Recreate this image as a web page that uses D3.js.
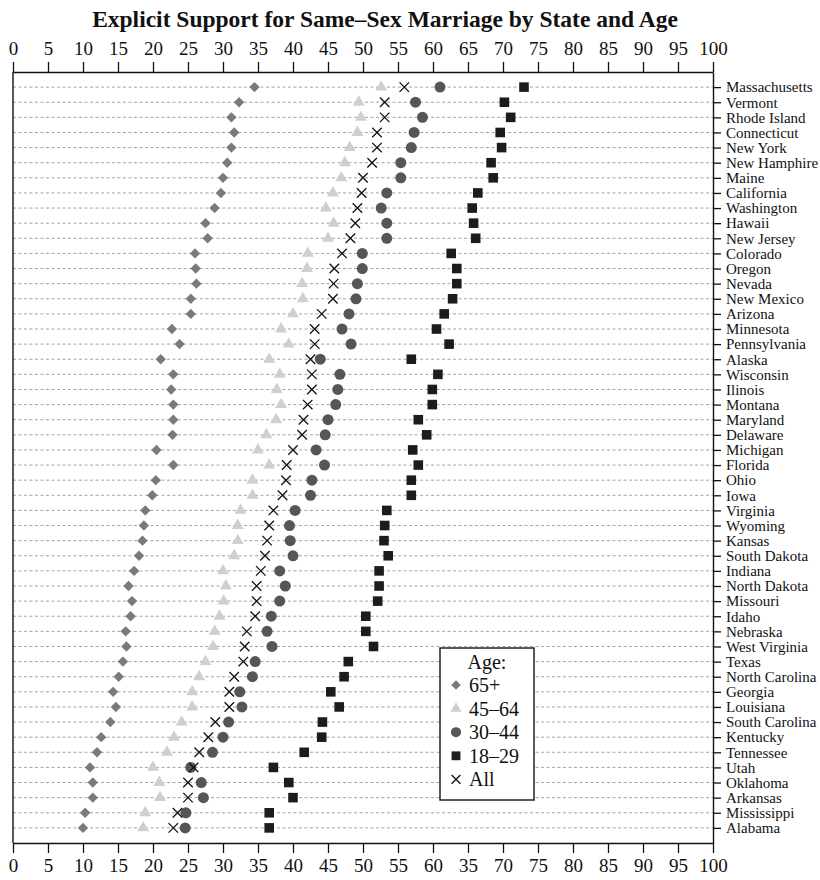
<!DOCTYPE html>
<html>
<head>
<meta charset="utf-8">
<script src="https://cdnjs.cloudflare.com/ajax/libs/d3/7.8.5/d3.min.js"></script>
<style>
body { margin: 0; background: #fff; }
svg text { font-family: "Liberation Serif", "DejaVu Serif", serif; }
</style>
</head>
<body>
<div id="container"></div>
<script>
const states = ["Massachusetts", "Vermont", "Rhode Island", "Connecticut", "New York", "New Hamphire", "Maine",
    "California", "Washington", "Hawaii", "New Jersey", "Colorado", "Oregon", "Nevada", "New Mexico", "Arizona",
    "Minnesota", "Pennsylvania", "Alaska", "Wisconsin", "Ilinois", "Montana", "Maryland", "Delaware", "Michigan",
    "Florida", "Ohio", "Iowa", "Virginia", "Wyoming", "Kansas", "South Dakota", "Indiana", "North Dakota",
    "Missouri", "Idaho", "Nebraska", "West Virginia", "Texas", "North Carolina", "Georgia", "Louisiana",
    "South Carolina", "Kentucky", "Tennessee", "Utah", "Oklahoma", "Arkansas", "Mississippi", "Alabama"]

const age65 = [34.5, 32.3, 31.2, 31.6, 31.2, 30.6, 30.0, 29.7, 28.8, 27.5, 27.8, 26.0, 26.1, 26.2, 25.4, 25.4,
    22.7, 23.8, 21.1, 22.9, 22.6, 22.9, 22.9, 22.8, 20.5, 22.9, 20.4, 19.9, 18.9, 18.7, 18.5, 18.0, 17.3, 16.5,
    17.0, 16.8, 16.1, 16.2, 15.7, 15.1, 14.3, 14.7, 13.9, 12.6, 12.0, 11.0, 11.4, 11.4, 10.3, 10.0]
const age45 = [52.6, 49.4, 49.7, 49.2, 48.1, 47.4, 46.9, 45.7, 44.7, 45.8, 45.0, 42.1, 42.0, 41.3, 41.4, 40.0,
    38.3, 39.4, 36.6, 38.1, 37.7, 38.3, 37.6, 36.2, 35.0, 36.6, 34.2, 34.2, 32.5, 32.1, 32.1, 31.6, 30.0, 30.4,
    30.1, 29.5, 28.8, 28.6, 27.5, 26.6, 25.6, 25.6, 24.1, 23.0, 22.0, 20.0, 20.9, 21.0, 18.9, 18.6]
const age30 = [61.0, 57.5, 58.5, 57.3, 56.9, 55.4, 55.4, 53.4, 52.6, 53.4, 53.4, 49.9, 49.9, 49.2, 49.0, 48.0,
    47.0, 48.3, 43.9, 46.7, 46.4, 46.1, 45.0, 44.6, 43.3, 44.5, 42.7, 42.5, 40.3, 39.5, 39.6, 40.0, 38.1, 38.9,
    38.1, 36.9, 36.3, 37.0, 34.6, 34.2, 32.4, 32.7, 30.8, 30.0, 28.5, 25.4, 26.9, 27.2, 24.7, 24.6]
const age18 = [73.0, 70.2, 71.1, 69.6, 69.8, 68.3, 68.6, 66.4, 65.6, 65.8, 66.1, 62.6, 63.4, 63.4, 62.8, 61.6,
    60.5, 62.3, 56.9, 60.7, 59.9, 59.9, 57.9, 59.1, 57.1, 57.9, 56.9, 56.9, 53.4, 53.1, 53.0, 53.6, 52.3, 52.3,
    52.1, 50.4, 50.4, 51.5, 47.9, 47.3, 45.4, 46.6, 44.2, 44.1, 41.6, 37.2, 39.4, 40.0, 36.6, 36.6]
const allAges = [55.9, 53.1, 53.1, 52.0, 52.0, 51.3, 50.0, 49.8, 49.2, 48.9, 48.2, 47.0, 45.9, 45.8, 45.7, 44.1,
    43.1, 43.1, 42.5, 42.7, 42.7, 42.1, 41.5, 41.3, 40.0, 39.1, 39.0, 38.5, 37.2, 36.6, 36.3, 36.0, 35.4, 34.8,
    34.8, 34.6, 33.4, 33.1, 32.9, 31.6, 30.9, 30.9, 28.9, 27.9, 26.6, 25.8, 25.0, 25.0, 23.5, 22.9]

const seriesNames = ["65+", "45\u201364", "30\u201344", "18\u201329", "All"]
const tickValues = [0, 5, 10, 15, 20, 25, 30, 35, 40, 45, 50, 55, 60, 65, 70, 75, 80, 85, 90, 95, 100]
const topTickLabels = ["0", "5", "10", "15", "20", "25", "30", "35", "40", "45", "50", "55", "60", "65", "70",
    "75", "80", "85", "90", "95", "100"]
// the printed bottom axis reads "35" where 65 should be
const bottomTickLabels = ["0", "5", "10", "15", "20", "25", "30", "35", "40", "45", "50", "55", "60", "35", "70",
    "75", "80", "85", "90", "95", "100"]

const width = 820
const height = 880
const plot = { left: 13, right: 713, top: 72, bottom: 843 }

// plain X mark, drawn with stroke only
const cross = {
    draw(ctx, size) {
        const r = Math.sqrt(size) / 2
        ctx.moveTo(-r, -r)
        ctx.lineTo(r, r)
        ctx.moveTo(r, -r)
        ctx.lineTo(-r, r)
    }
}

const styles = [
    { values: age65, type: d3.symbolSquare, size: 54, rotate: 45, fill: "#7a7a7a", stroke: "none" },
    { values: age45, type: d3.symbolTriangle, size: 62, rotate: 0, fill: "#cfcfcf", stroke: "none" },
    { values: age30, type: d3.symbolCircle, size: 95, rotate: 0, fill: "#565656", stroke: "none" },
    { values: age18, type: d3.symbolSquare, size: 92, rotate: 0, fill: "#1c1c1c", stroke: "none" },
    { values: allAges, type: cross, size: 90, rotate: 0, fill: "none", stroke: "#111" },
]

const svg = d3.select("#container")
    .append("svg").attr("width", width).attr("height", height)

const x = d3.scaleLinear().domain([0, 100]).range([plot.left, plot.right])
const y = d3.scalePoint().domain(states).range([plot.top, plot.bottom]).padding(1)

svg.append("text")
    .attr("x", 385).attr("y", 27)
    .attr("text-anchor", "middle")
    .style("font-size", "23.5px").style("font-weight", "bold")
    .attr("fill", "#111")
    .text("Explicit Support for Same\u2013Sex Marriage by State and Age")

// dashed row guides
svg.append("g").selectAll("line")
    .data(states).join("line")
    .attr("x1", plot.left).attr("x2", plot.right)
    .attr("y1", d => y(d)).attr("y2", d => y(d))
    .attr("stroke", "#8c8c8c").attr("stroke-width", 0.8)
    .attr("stroke-dasharray", "3,2.5")

const styleAxis = (g, fontSize) => {
    g.select(".domain").attr("stroke", "#111").attr("stroke-width", 1.4)
    g.selectAll(".tick line").attr("stroke", "#111").attr("stroke-width", 1.3)
    g.selectAll(".tick text").attr("fill", "#111")
        .style("font-size", fontSize).style("font-family", '"Liberation Serif", "DejaVu Serif", serif')
}

svg.append("g")
    .attr("transform", "translate(0," + plot.top + ")")
    .call(d3.axisTop(x).tickValues(tickValues).tickSize(10).tickSizeOuter(0).tickPadding(7)
        .tickFormat((d, i) => topTickLabels[i]))
    .call(g => styleAxis(g, "19px"))

svg.append("g")
    .attr("transform", "translate(0," + plot.bottom + ")")
    .call(d3.axisBottom(x).tickValues(tickValues).tickSize(10).tickSizeOuter(0).tickPadding(6)
        .tickFormat((d, i) => bottomTickLabels[i]))
    .call(g => styleAxis(g, "19px"))

svg.append("g")
    .attr("transform", "translate(" + plot.right + ",0)")
    .call(d3.axisRight(y).tickSize(8).tickSizeOuter(0).tickPadding(5))
    .call(g => styleAxis(g, "15px"))

svg.append("line")
    .attr("x1", plot.left).attr("x2", plot.left)
    .attr("y1", plot.top).attr("y2", plot.bottom)
    .attr("stroke", "#111").attr("stroke-width", 1.4)

styles.forEach(s => {
    svg.append("g").selectAll("path")
        .data(s.values).join("path")
        .attr("d", d3.symbol(s.type, s.size))
        .attr("transform", (d, i) => "translate(" + x(d) + "," + y(states[i]) + ") rotate(" + s.rotate + ")")
        .attr("fill", s.fill)
        .attr("stroke", s.stroke)
        .attr("stroke-width", 1.3)
})

// legend
const legend = svg.append("g").attr("transform", "translate(440,648)")
legend.append("rect")
    .attr("width", 94).attr("height", 152)
    .attr("fill", "#fff").attr("stroke", "#222").attr("stroke-width", 1.5)
legend.append("text")
    .attr("x", 47).attr("y", 21)
    .attr("text-anchor", "middle")
    .style("font-size", "20px").attr("fill", "#111")
    .text("Age:")

const items = legend.selectAll(".item")
    .data(styles).join("g")
    .attr("class", "item")
    .attr("transform", (d, i) => "translate(16," + (37 + i * 23.6) + ")")
items.append("path")
    .attr("d", d => d3.symbol(d.type, d.size * 0.85)())
    .attr("transform", d => "rotate(" + d.rotate + ")")
    .attr("fill", d => d.fill)
    .attr("stroke", d => d.stroke)
    .attr("stroke-width", 1.3)
items.append("text")
    .attr("x", 13).attr("dy", "0.35em")
    .style("font-size", "20px").attr("fill", "#111")
    .text((d, i) => seriesNames[i])
</script>
</body>
</html>
